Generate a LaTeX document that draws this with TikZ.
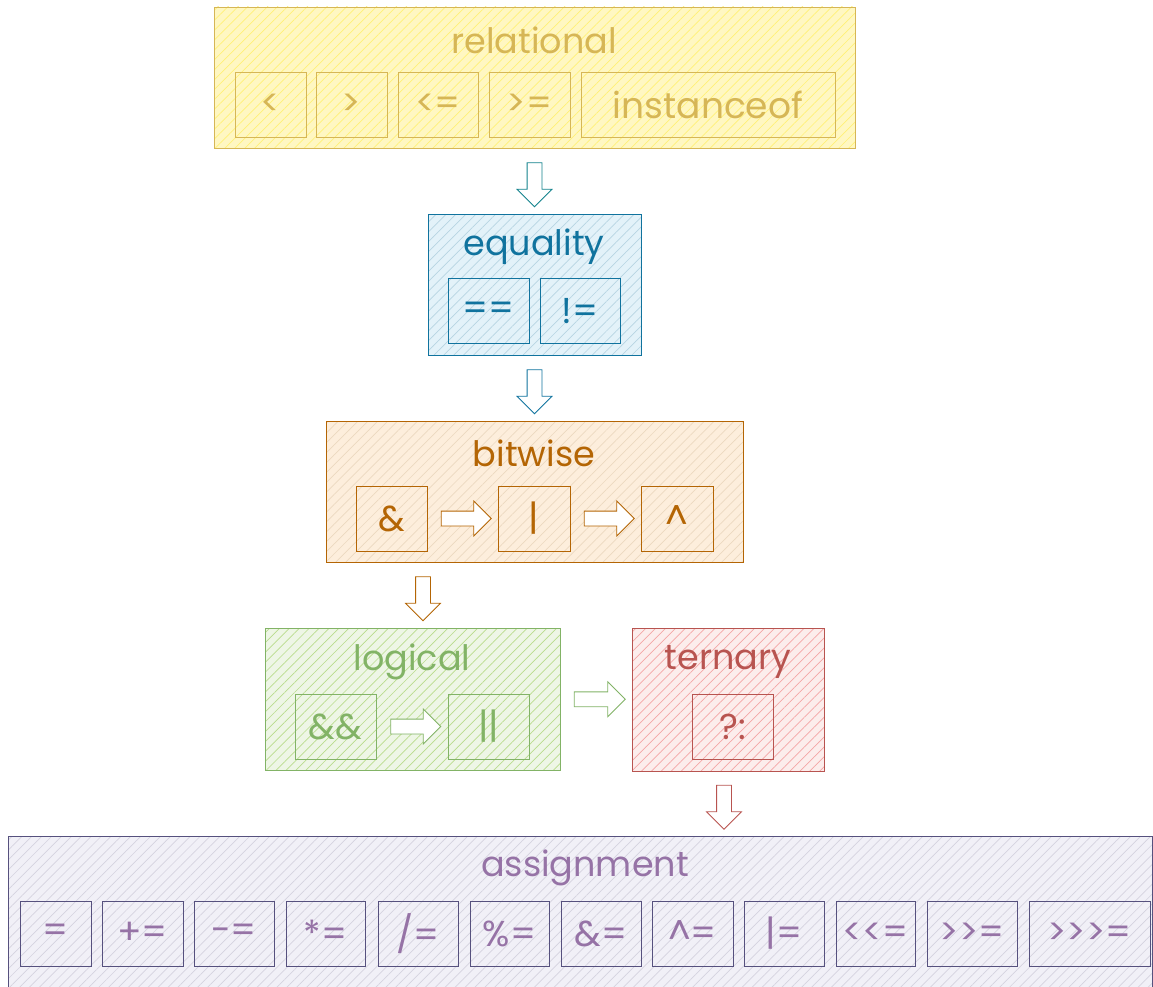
\documentclass[tikz,border=0pt]{standalone}
\usepackage{fontspec}
\setmainfont{Poppins}[Ligatures=TeXOff]
\usetikzlibrary{calc,shapes.arrows,patterns.meta}

\definecolor{yelline}{HTML}{D6B656}
\definecolor{yelfill}{HTML}{FFF7C2}
\definecolor{yelhatch}{HTML}{FFF176}
\definecolor{blueline}{HTML}{10739E}
\definecolor{bluefill}{HTML}{E3F2F9}
\definecolor{tealline}{HTML}{12828C}
\definecolor{orgline}{HTML}{B46504}
\definecolor{orgfill}{HTML}{FDEEDC}
\definecolor{grnline}{HTML}{82B366}
\definecolor{grnfill}{HTML}{EEF6E6}
\definecolor{grnhatch}{HTML}{B9DC8C}
\definecolor{redline}{HTML}{B85450}
\definecolor{redfill}{HTML}{FCEDEC}
\definecolor{redhatch}{HTML}{F4A6A6}
\definecolor{purline}{HTML}{56517E}
\definecolor{purfill}{HTML}{F1F0F7}
\definecolor{purtext}{HTML}{9673A6}

\begin{document}
\begin{tikzpicture}[x=1pt,y=-1pt,
    group/.style n args={3}{preaction={fill=#2},pattern={Lines[angle=45,distance=7pt,line width=.7pt]},
      pattern color=#3,draw=#1,line width=.9pt,inner sep=0,minimum height=141},
    opbox/.style={draw=#1,line width=.8pt,inner sep=0,minimum height=65,font=\fontsize{36}{40}\selectfont},
    title/.style={text=#1,font=\fontsize{35}{40}\selectfont,inner sep=0},
    barrow/.style={single arrow,draw=#1,fill=white,line width=.8pt,inner sep=7,
      single arrow head extend=10,minimum height=44}]
    \useasboundingbox (0,0) rectangle (1153,987);

    % relational
    \node[group={yelline}{yelfill}{yelhatch},minimum width=641] (rel) at (534.5,77.5) {};
    \node[title=yelline] (reltitle) at (534,40) {relational};
    \node[opbox=yelline,text=yelline,minimum width=71] (lt) at (270.5,104.5) {<};
    \node[opbox=yelline,text=yelline,minimum width=71] (gt) at (351.5,104.5) {>};
    \node[opbox=yelline,text=yelline,minimum width=80] (le) at (438,104.5) {<=};
    \node[opbox=yelline,text=yelline,minimum width=81] (ge) at (529.5,104.5) {>=};
    \node[opbox=yelline,text=yelline,minimum width=254] (inst) at (708,104.5) {instanceof};

    % equality
    \node[group={blueline}{bluefill}{blueline!30},minimum width=213] (eq) at (534.5,284.5) {};
    \node[title=blueline] (eqtitle) at (534,247) {equality};
    \node[opbox=blueline,text=blueline,minimum width=81] (eqeq) at (488.5,311) {==};
    \node[opbox=blueline,text=blueline,minimum width=80] (neq) at (580,311) {!=};

    % bitwise
    \node[group={orgline}{orgfill}{orgline!25},minimum width=417] (bit) at (534.5,491.5) {};
    \node[title=orgline] (bittitle) at (534,453) {bitwise};
    \node[opbox=orgline,text=orgline,minimum width=71] (band) at (391.5,518.5) {\&};
    \node[opbox=orgline,text=orgline,minimum width=72] (bor) at (534,518.5) {|};
    \node[opbox=orgline,text=orgline,minimum width=72] (bxor) at (677,518.5) {\textasciicircum};

    % logical
    \node[group={grnline}{grnfill}{grnhatch},minimum width=295,minimum height=142] (log) at (412.5,699) {};
    \node[title=grnline] (logtitle) at (412,662) {logical};
    \node[opbox=grnline,text=grnline,minimum width=81] (land) at (335.5,726.5) {\&\&};
    \node[opbox=grnline,text=grnline,minimum width=81] (lor) at (488.5,726.5) {||};

    % ternary
    \node[group={redline}{redfill}{redhatch},minimum width=192,minimum height=143] (ter) at (728,699.5) {};
    \node[title=redline] (tertitle) at (728,662) {ternary};
    \node[opbox=redline,text=redline,minimum width=81] (cond) at (732.5,726.5) {?:};

    % assignment
    \node[group={purline}{purfill}{purline!25},minimum width=1144,minimum height=151] (asg) at (580,911.5) {};
    \node[title=purtext] (asgtitle) at (585,868) {assignment};
    \node[opbox=purline,text=purtext,minimum width=71] (a1) at (55.5,933.5) {=};
    \node[opbox=purline,text=purtext,minimum width=81] (a2) at (142.5,933.5) {+=};
    \node[opbox=purline,text=purtext,minimum width=80] (a3) at (234,933.5) {-=};
    \node[opbox=purline,text=purtext,minimum width=79] (a4) at (325.5,933.5) {*=};
    \node[opbox=purline,text=purtext,minimum width=80] (a5) at (418,933.5) {/=};
    \node[opbox=purline,text=purtext,minimum width=79] (a6) at (509.5,933.5) {\%=};
    \node[opbox=purline,text=purtext,minimum width=80] (a7) at (601,933.5) {\&=};
    \node[opbox=purline,text=purtext,minimum width=81] (a8) at (692.5,933.5) {\textasciicircum=};
    \node[opbox=purline,text=purtext,minimum width=80] (a9) at (784,933.5) {|=};
    \node[opbox=purline,text=purtext,minimum width=79] (a10) at (875.5,933.5) {<<=};
    \node[opbox=purline,text=purtext,minimum width=90] (a11) at (972,933.5) {>>=};
    \node[opbox=purline,text=purtext,minimum width=121] (a12) at (1089.5,933.5) {>>>=};

    % block arrows between the groups
    \node[barrow=tealline,rotate=-90] (relToEq) at ($(rel.south)!.5!(eq.north)$) {};
    \node[barrow=blueline,rotate=-90] (eqToBit) at ($(eq.south)!.5!(bit.north)$) {};
    \node[barrow=orgline,rotate=-90] (bitToLog) at ($(bit.south -| 423,0)!.5!(log.north -| 423,0)$) {};
    \node[barrow=orgline,minimum height=50] (andToOr) at ($(band.east)!.5!(bor.west)$) {};
    \node[barrow=orgline,minimum height=50] (orToXor) at ($(bor.east)!.5!(bxor.west)$) {};
    \node[barrow=grnline,minimum height=50] (landToLor) at ($(land.east)!.5!(lor.west)$) {};
    \node[barrow=grnline,minimum height=51] (logToTer) at ($(log.east)!.5!(ter.west)$) {};
    \node[barrow=redline,rotate=-90] (terToAsg) at ($(ter.south -| 724,0)!.5!(asg.north -| 724,0)$) {};
\end{tikzpicture}
\end{document}
